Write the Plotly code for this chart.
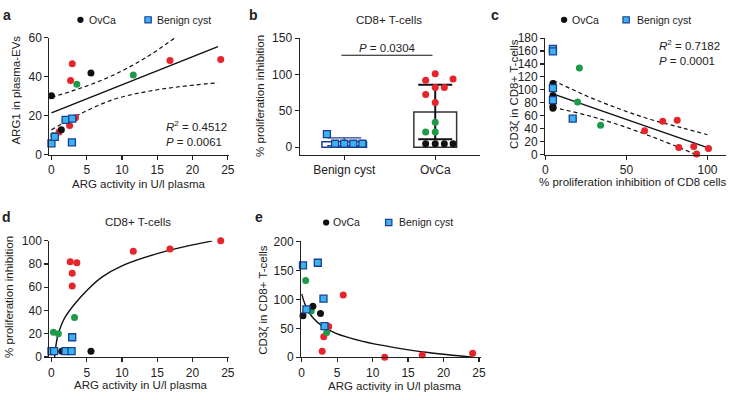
import plotly.graph_objects as go

W, H = 732, 400
FONT = "Liberation Sans, Arial, sans-serif"
TXT = "#222222"
RED, GREEN, BLACK = "#e8242b", "#1f9a48", "#111111"
BLUE, NAVY = "#3ab4f0", "#1c3f94"

# ---------------- data ----------------
# panel a: ARG activity vs ARG1 in plasma-EVs
a_red_x = [2.95, 2.71, 16.8, 24.0, 3.4, 2.57, 1.08]
a_red_y = [46.7, 38.1, 48.3, 48.8, 18.9, 14.8, 11.5]
a_green_x = [3.6, 11.6, 0.33]
a_green_y = [36.1, 40.9, 9.7]
a_black_x = [0.0, 5.6, 1.4]
a_black_y = [30.2, 41.9, 12.7]
a_blue_x = [0.0, 0.47, 2.0, 2.95, 2.9]
a_blue_y = [5.7, 9.0, 17.8, 18.4, 6.2]
a_fit_x = [0.0, 23.6]
a_fit_y = [21.4, 55.5]
a_up_x = [0.0, 3.97, 8.65, 13.3, 17.5]
a_up_y = [29.4, 33.9, 40.6, 49.7, 60.0]
a_lo_x = [0.0, 3.97, 8.65, 13.3, 17.8, 23.6]
a_lo_y = [12.6, 20.6, 28.1, 32.2, 34.7, 36.9]

# panel b: % proliferation inhibition
b_cats = ["Benign cyst", "OvCa"]
b_means = [7.4, 48.6]
b_sd = [5.4, 37.5]
b_benign_x = [-0.19, -0.1, 0.0, 0.1, 0.2]
b_benign_y = [18.0, 4.8, 4.8, 4.8, 4.8]
b_red_x = [0.895, 1.0, 1.196, 1.0, 1.1, 0.895, 1.0]
b_red_y = [92.0, 101.0, 94.0, 82.0, 82.0, 72.5, 61.5]
b_green_x = [1.0, 0.895, 1.0]
b_green_y = [34.5, 21.0, 21.0]
b_black_x = [0.895, 1.0, 1.1, 1.196]
b_black_y = [4.8, 4.8, 4.8, 4.8]
b_bracket_x = [-0.03, 0.97]
b_bracket_y = [126.5, 126.5]

# panel c: % proliferation inhibition vs CD3zeta
c_black_x = [4.7, 4.7, 4.7, 4.7, 4.7, 4.7, 4.7]
c_black_y = [109.7, 105.0, 91.0, 87.7, 82.8, 74.7, 71.3]
c_blue_x = [4.7, 4.7, 4.7, 4.7, 16.9]
c_blue_y = [163.5, 159.5, 102.7, 84.0, 55.3]
c_green_x = [21.0, 19.9, 34.1]
c_green_y = [133.6, 81.3, 44.9]
c_red_x = [61.2, 72.4, 81.3, 82.3, 91.5, 93.3, 100.6]
c_red_y = [36.4, 51.4, 52.9, 10.5, 12.0, 0.5, 9.0]
c_fit_x = [4.7, 100.0]
c_fit_y = [93.8, 10.5]
c_up_x = [4.7, 25, 45, 65, 85, 100]
c_up_y = [114.7, 91.0, 71.0, 54.0, 40.6, 30.4]
c_lo_x = [4.7, 25, 45, 65, 85, 92.5]
c_lo_y = [72.8, 61.0, 46.0, 28.0, 8.0, 0.0]

# panel d: ARG activity vs % proliferation inhibition
d_red_x = [2.66, 2.94, 2.94, 3.6, 11.6, 16.8, 24.0]
d_red_y = [82.0, 72.0, 61.2, 81.2, 91.0, 93.0, 100.0]
d_green_x = [0.28, 0.98, 3.27]
d_green_y = [21.3, 20.0, 34.0]
d_black_x = [0.1, 1.45, 5.6]
d_black_y = [5.0, 5.0, 5.0]
d_blue_x = [0.0, 0.38, 2.0, 2.85, 2.94]
d_blue_y = [5.0, 5.0, 5.0, 5.0, 17.0]
d_fit_x = [0.45, 0.84, 1.5, 2, 3.2, 5.3, 7.2, 10, 15, 20, 22.8]
d_fit_y = [0, 17, 29, 35, 45, 59, 69, 78.5, 89, 96.5, 100]

# panel e: ARG activity vs CD3zeta
e_blue_x = [0.18, 2.27, 3.07, 0.66, 3.21]
e_blue_y = [158.8, 163.3, 101.2, 82.8, 53.8]
e_green_x = [0.56, 1.35, 3.53]
e_green_y = [132.8, 80.0, 42.8]
e_black_x = [0.18, 1.58, 2.65]
e_black_y = [71.7, 88.3, 75.5]
e_red_x = [5.86, 3.81, 3.11, 2.89, 11.7, 17.0, 24.1]
e_red_y = [107.8, 53.3, 35.5, 10.5, 0.0, 3.8, 7.2]
e_fit_x = [0, 0.56, 1.49, 2.9, 4.75, 8.47, 13.1, 17.8, 24.2]
e_fit_y = [109.5, 88.8, 69.5, 53.8, 41.7, 27.8, 16.7, 8.3, 0]


def px(v):
    return v / W


def py(v):
    return 1 - v / H


fig = go.Figure()


def dots(x, y, color, ax, size=7):
    fig.add_trace(go.Scatter(x=x, y=y, mode="markers", xaxis=ax[0], yaxis=ax[1],
                             marker=dict(color=color, size=size, line=dict(width=0)),
                             cliponaxis=False, hoverinfo="skip"))


def squares(x, y, ax):
    fig.add_trace(go.Scatter(x=x, y=y, mode="markers", xaxis=ax[0], yaxis=ax[1],
                             marker=dict(symbol="square", color=BLUE, size=7,
                                         line=dict(color=NAVY, width=1.3)),
                             cliponaxis=False, hoverinfo="skip"))


def line(x, y, ax, dash="solid", width=1.4, shape="linear"):
    fig.add_trace(go.Scatter(x=x, y=y, mode="lines", xaxis=ax[0], yaxis=ax[1],
                             line=dict(color=BLACK, width=width, dash=dash, shape=shape),
                             hoverinfo="skip"))


A, B, C, D, E = ("x", "y"), ("x2", "y2"), ("x3", "y3"), ("x4", "y4"), ("x5", "y5")

# panel a
line(a_fit_x, a_fit_y, A)
line(a_up_x, a_up_y, A, dash="4px,3px", width=1.2, shape="spline")
line(a_lo_x, a_lo_y, A, dash="4px,3px", width=1.2, shape="spline")
dots(a_red_x, a_red_y, RED, A)
dots(a_green_x, a_green_y, GREEN, A)
dots(a_black_x, a_black_y, BLACK, A)
squares(a_blue_x, a_blue_y, A)

# panel b
fig.add_trace(go.Bar(x=[0], y=[b_means[0]], width=0.49, xaxis="x2", yaxis="y2",
                     marker=dict(color="white", line=dict(color=NAVY, width=1.5)),
                     error_y=dict(type="data", array=[b_sd[0]], color=NAVY, thickness=1.4, width=17),
                     hoverinfo="skip"))
fig.add_trace(go.Bar(x=[1], y=[b_means[1]], width=0.47, xaxis="x2", yaxis="y2",
                     marker=dict(color="white", line=dict(color="#333333", width=1.5)),
                     error_y=dict(type="data", array=[b_sd[1]], color=BLACK, thickness=2, width=17),
                     hoverinfo="skip"))
dots(b_red_x, b_red_y, RED, B)
dots(b_green_x, b_green_y, GREEN, B)
dots(b_black_x, b_black_y, BLACK, B)
squares(b_benign_x, b_benign_y, B)
line(b_bracket_x, b_bracket_y, B, width=1.2)

# panel c
line(c_fit_x, c_fit_y, C)
line(c_up_x, c_up_y, C, dash="4px,3px", width=1.2, shape="spline")
line(c_lo_x, c_lo_y, C, dash="4px,3px", width=1.2, shape="spline")
dots(c_red_x, c_red_y, RED, C)
dots(c_green_x, c_green_y, GREEN, C)
dots(c_black_x, c_black_y, BLACK, C)
squares(c_blue_x, c_blue_y, C)

# panel d
line(d_fit_x, d_fit_y, D, shape="spline")
dots(d_red_x, d_red_y, RED, D)
dots(d_green_x, d_green_y, GREEN, D)
dots(d_black_x, d_black_y, BLACK, D)
squares(d_blue_x, d_blue_y, D)

# panel e
line(e_fit_x, e_fit_y, E, shape="spline")
dots(e_red_x, e_red_y, RED, E)
dots(e_green_x, e_green_y, GREEN, E)
dots(e_black_x, e_black_y, BLACK, E)
squares(e_blue_x, e_blue_y, E)

axstyle = dict(showline=True, linecolor="#222222", linewidth=1.2, ticks="outside",
               ticklen=4, tickwidth=1.2, tickcolor="#222222", showgrid=False,
               zeroline=False, tickfont=dict(family=FONT, size=12, color=TXT),
               fixedrange=True)


def set_axes(n, xdom, ydom, xr, yr, xt, yt, xtt=None):
    sfx = "" if n == 1 else str(n)
    xa = dict(axstyle, domain=[px(xdom[0]), px(xdom[1])], range=xr, tickvals=xt,
              anchor="y" + sfx)
    if xtt:
        xa["ticktext"] = xtt
    ya = dict(axstyle, domain=[py(ydom[0]), py(ydom[1])], range=yr, tickvals=yt,
              anchor="x" + sfx)
    fig.layout["xaxis" + sfx] = xa
    fig.layout["yaxis" + sfx] = ya


set_axes(1, (47, 229), (153, 32), [-0.28, 25.24], [-0.15, 60], [0, 5, 10, 15, 20, 25], [0, 20, 40, 60])
set_axes(2, (300, 482), (153, 32.3), [-0.489, 1.489], [-10.2, 150], [0, 1], [0, 50, 100, 150], b_cats)
set_axes(3, (548.3, 731), (153, 32.3), [0, 111.4], [-0.45, 180], [0, 50, 100], list(range(0, 181, 20)))
set_axes(4, (47, 229), (363, 242.3), [-0.28, 25.24], [-0.25, 100], [0, 5, 10, 15, 20, 25], [0, 20, 40, 60, 80, 100])
set_axes(5, (301.5, 483), (363, 243), [-0.07, 25.24], [0, 200], [0, 5, 10, 15, 20, 25], [0, 50, 100, 150, 200])

ann = []


def text(t, x, y, size=11.5, xanchor="center", yanchor="middle", angle=0, bold=False, align="center"):
    ann.append(dict(text=("<b>%s</b>" % t) if bold else t, x=px(x), y=py(y), xref="paper",
                    yref="paper", showarrow=False, xanchor=xanchor, yanchor=yanchor,
                    textangle=angle, align=align,
                    font=dict(family=FONT, size=size, color=TXT)))


# panel letters
for letter, x, y in [("a", 4, 8), ("b", 253, 8), ("c", 497.5, 8), ("d", 4, 217.5), ("e", 258.5, 217.5)]:
    text(letter, x, y, size=14, bold=True)

# axis titles
text("ARG1 in plasma-EVs", 12.7, 86, angle=-90)
text("ARG activity in U/l plasma", 137, 183.3)
text("% proliferation inhibition", 260, 92, angle=-90)
text("CD8+ T-cells", 390.7, 13.3)
text("CD3ζ in CD8+ T-cells", 516.7, 90, angle=-90)
text("% proliferation inhibition of CD8 cells", 637, 181.7)
text("CD8+ T-cells", 136.7, 223.3)
text("% proliferation inhibition", 5.5, 300, angle=-90)
text("ARG activity in U/l plasma", 140, 391.7)
text("CD3ζ in CD8+ T-cells", 263.3, 303, angle=-90)
text("ARG activity in U/l plasma", 396.3, 392.3)

# statistics
text("<i>R</i><sup>2</sup> = 0.4512<br><i>P</i> = 0.0061", 228, 131, size=11.5,
     xanchor="right", align="left")
text("<i>R</i><sup>2</sup> = 0.7182<br><i>P</i> = 0.0001", 727, 47, size=11.5,
     xanchor="right", align="left")
text("<i>P</i> = 0.0304", 389, 42.7, size=11.5)

# legends
shapes = []


def legend(cx, cy, tx1, sx, tx2):
    shapes.append(dict(type="circle", xref="paper", yref="paper",
                       x0=px(cx - 3.2), x1=px(cx + 3.2), y0=py(cy + 3.2), y1=py(cy - 3.2),
                       fillcolor=BLACK, line=dict(width=0)))
    text("OvCa", tx1, cy, size=10.5, xanchor="left")
    shapes.append(dict(type="rect", xref="paper", yref="paper",
                       x0=px(sx - 3.2), x1=px(sx + 3.2), y0=py(cy + 3.2), y1=py(cy - 3.2),
                       fillcolor=BLUE, line=dict(color=NAVY, width=1.2)))
    text("Benign cyst", tx2, cy, size=10.5, xanchor="left")


legend(78.3, 13.3, 85, 146.7, 153.5)
legend(567.3, 13.3, 573.5, 630, 638.5)
legend(326.7, 223.3, 332, 390, 398.5)

fig.update_layout(width=W, height=H, margin=dict(l=0, r=0, t=0, b=0), autosize=False,
                  paper_bgcolor="white", plot_bgcolor="white", showlegend=False,
                  annotations=ann, shapes=shapes, bargap=0, hovermode=False,
                  font=dict(family=FONT, size=12, color=TXT))

fig.write_html("out.html", config={"displayModeBar": False, "staticPlot": True},
               post_script="document.body.style.margin='0';document.body.style.padding='0';"
                           "document.documentElement.style.overflow='hidden';")
